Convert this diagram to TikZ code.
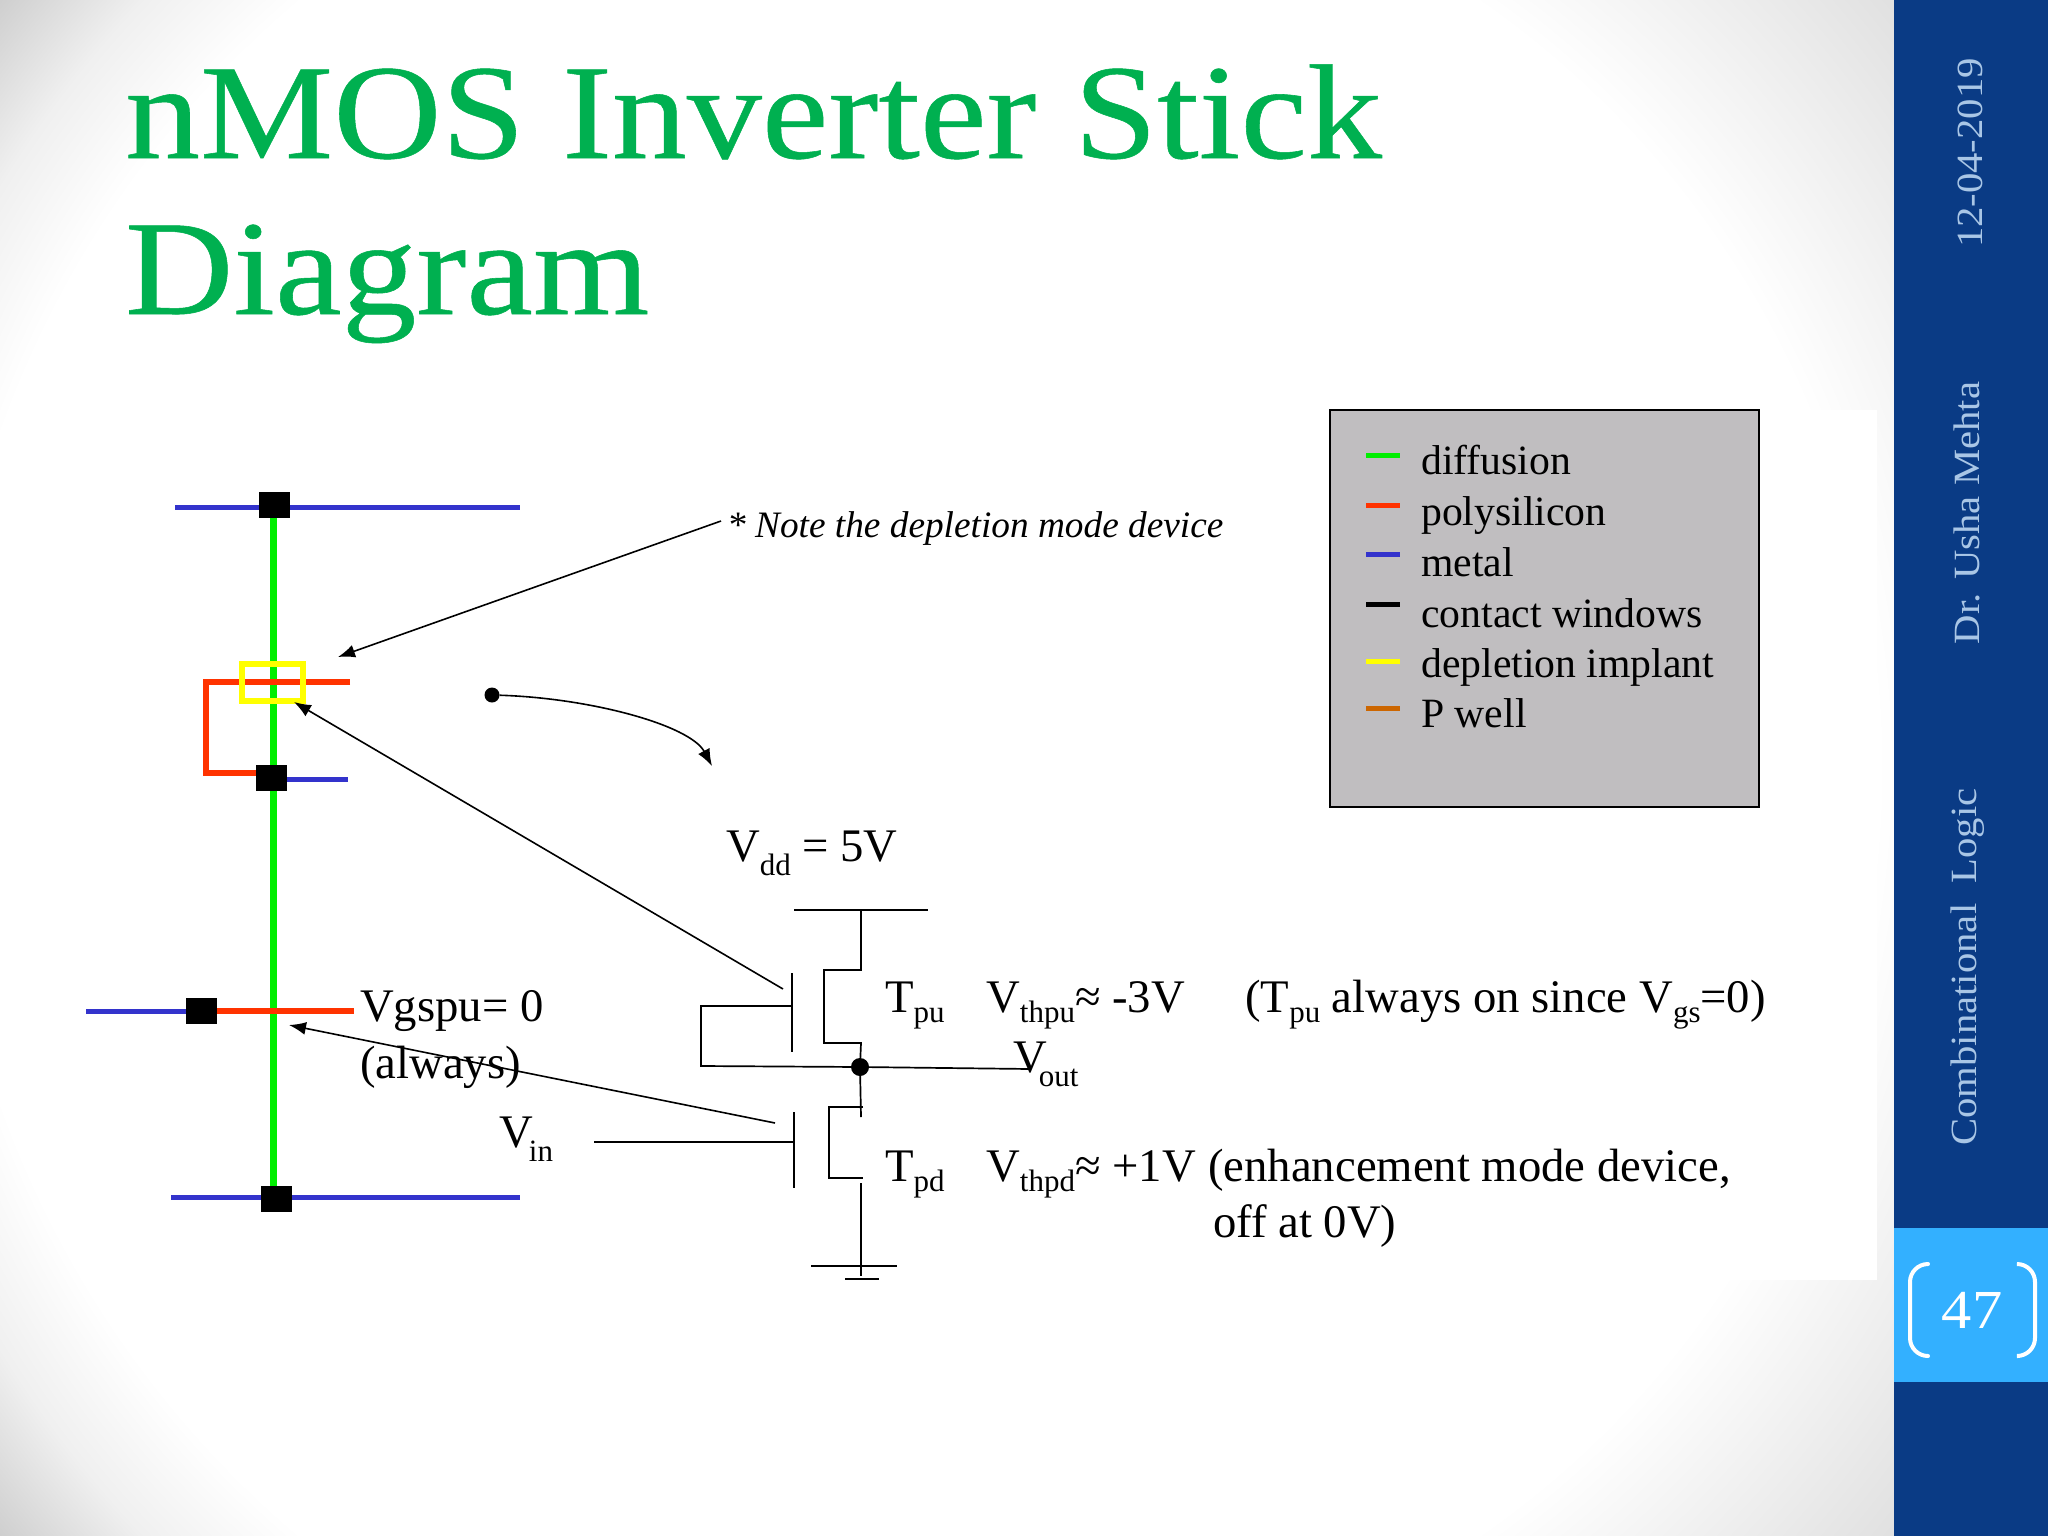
\documentclass[tikz,border=0pt]{standalone}
\usepackage{fontspec}
\setmainfont{Liberation Serif}
\newfontfamily\slidefont[FakeStretch=1.11,FakeBold=0.4]{Liberation Serif}
\newfontfamily\sidefont[FakeStretch=1.1]{Liberation Serif}
\usetikzlibrary{arrows.meta}
\definecolor{titlegreen}{HTML}{00B050}
\definecolor{sidenavy}{HTML}{0A3B85}
\definecolor{sidesky}{HTML}{33B0FF}
\definecolor{sidetext}{HTML}{A9C6E6}
\definecolor{stickgreen}{HTML}{00EE00}
\definecolor{stickred}{HTML}{FF3300}
\definecolor{stickblue}{HTML}{3333CC}
\definecolor{stickyellow}{HTML}{FFFF00}
\definecolor{stickorange}{HTML}{CC6600}
\definecolor{legendgray}{HTML}{C0BEC0}
\pgfdeclareradialshading{backleft}{\pgfpoint{0bp}{0bp}}{
  color(0bp)=(white); color(20.2bp)=(white); color(22.4bp)=(black!6); color(24.6bp)=(black!19); color(50bp)=(black!19)}
\pgfdeclareradialshading{backright}{\pgfpoint{0bp}{0bp}}{
  color(0bp)=(white); color(18.75bp)=(white); color(24.6bp)=(black!12); color(50bp)=(black!12)}
\newcommand{\lowsub}[1]{\raisebox{-10pt}{\fontsize{31}{32}\selectfont #1}}
\newcommand{\fsz}[1]{\fontsize{#1}{#1}\selectfont}

\begin{document}
\begin{tikzpicture}[x=1pt,y=-1pt]

\tikzset{
  txt_s/.style = {inner sep=0pt, anchor=base west, font=\fsz{46.7}},
  leg_s/.style = {inner sep=0pt, anchor=base west, font=\fsz{41.7}},
  side_s/.style = {inner sep=0pt, rotate=90, text=sidetext, font=\sidefont\fsz{37}},
  head_s/.style = {inner sep=0pt, anchor=base west, text=titlegreen, font=\slidefont\fsz{135}},
  cnt_s/.style = {fill=black, inner sep=0pt, minimum width=31pt, minimum height=26pt},
  dot_s/.style = {fill=black, circle, inner sep=0pt, minimum size=15pt},
  metal_s/.style = {draw=stickblue, line width=5pt},
  poly_s/.style = {draw=stickred, line width=6pt},
  diff_s/.style = {draw=stickgreen, line width=7pt},
  wire_s/.style = {draw=black, line width=1.7pt},
  point_s/.style = {draw=black, line width=1.6pt, -{Latex[length=17pt,width=13pt]}},
  dash_s/.style = {line width=5pt}
}

\path[use as bounding box] (0,0) rectangle (2048,1536);
\begin{scope}
\clip (0,0) rectangle (947,1536);
\shade[shading=backleft] (-293,-472) rectangle (2187,2008);
\end{scope}
\begin{scope}
\clip (947,0) rectangle (1894,1536);
\shade[shading=backright] (-293,-472) rectangle (2187,2008);
\end{scope}
\fill[white] (560,410) rectangle (1877,1280);
\fill[sidenavy] (1894,0) rectangle (2048,1536);
\fill[sidesky] (1894,1228) rectangle (2048,1382);

\node [head_s] (title_a) at (125,158) {nMOS Inverter Stick};
\node [head_s] (title_b) at (125,314) {Diagram};

\node [side_s] (date_t) at (1970,153) {12-04-2019};
\node [side_s] (name_t) at (1967,513) {Dr. Usha Mehta};
\node [side_s] (topic_t) at (1968,967) {Combinational~~Logic};
\node [inner sep=0pt, text=white, font=\sidefont\fsz{55}] (page_t) at (1972,1310) {47};
\draw[white, line width=4pt, line cap=round, rounded corners=18pt] (1928,1264) -- (1910,1264) -- (1910,1356) -- (1928,1356);
\draw[white, line width=4pt, line cap=round, rounded corners=18pt] (2018,1264) -- (2035,1264) -- (2035,1356) -- (2018,1356);

\draw[metal_s] (175,507) -- (520,507);
\draw[metal_s] (287,779) -- (348,779);
\draw[metal_s] (86,1011) -- (190,1011);
\draw[metal_s] (171,1197) -- (520,1197);
\draw[diff_s] (273,510) -- (273,1197);
\draw[poly_s] (350,682) -- (206,682) -- (206,773) -- (258,773);
\draw[poly_s] (212,1011) -- (354,1011);
\draw[draw=stickyellow, line width=6.5pt] (242,664) rectangle (303,701);
\node [cnt_s] (cnt_top) at (274,505) {};
\node [cnt_s] (cnt_mid) at (271,778) {};
\node [cnt_s] (cnt_gate) at (201,1011) {};
\node [cnt_s] (cnt_bot) at (276,1199) {};

\node [txt_s] (gate_a) at (360,1021) {Vgspu= 0};
\node [txt_s] (gate_b) at (360,1078) {(always)};
\node [inner sep=0pt, anchor=base west, font=\itshape\fsz{37.3}] (note_t) at (727,537) {* Note the depletion mode device};

\coordinate (note_tail) at (721,521);
\coordinate (note_tip) at (338,657);
\coordinate (pu_tail) at (783,989);
\coordinate (pu_tip) at (294,702);
\coordinate (pd_tail) at (775,1123);
\coordinate (pd_tip) at (289,1025);
\coordinate (move_tip) at (712,766);
\draw[point_s] (note_tail) -- (note_tip);
\draw[point_s] (pu_tail) -- (pu_tip);
\draw[point_s] (pd_tail) -- (pd_tip);
\node [dot_s] (move_dot) at (492,695) {};
\draw[point_s] (move_dot) .. controls (590,698) and (690,725) .. (move_tip);

\node [draw=black, line width=1.7pt, fill=legendgray, inner sep=0pt, minimum width=429pt, minimum height=397pt] (legend_box) at (1544.5,608.5) {};
\foreach \yy/\yt/\colr/\lab in {455/474/stickgreen/diffusion, 505/525/stickred/polysilicon, 554/576/stickblue/metal, 604/627/black/contact windows, 661/677/stickyellow/depletion implant, 708/727/stickorange/P well} {
  \draw[dash_s, draw=\colr] (1366,\yy) -- (1400,\yy);
  \node [leg_s] at (1421,\yt) {\lab};
}

\node [txt_s] (vdd_t) at (726,861) {V\raisebox{-4pt}{\lowsub{dd}} = 5V};
\node [txt_s] (vin_t) at (499,1147) {V\hspace{-4pt}\raisebox{-4pt}{\lowsub{in}}};
\node [txt_s] (vout_t) at (1013,1072) {V\hspace{-8pt}\raisebox{-4pt}{\lowsub{out}}};
\node [txt_s] (tpu_t) at (885,1012) {T\lowsub{pu}};
\node [txt_s] (tpd_t) at (885,1181) {T\lowsub{pd}};
\node [txt_s] (vthpu_t) at (986,1012) {V\lowsub{thpu}≈ -3V};
\node [txt_s] (vthpd_t) at (986,1181) {V\lowsub{thpd}≈ +1V};
\node [txt_s] (pu_note) at (1245,1012) {(T\lowsub{pu} always on since V\lowsub{gs}=0)};
\node [txt_s] (pd_note) at (1208,1181) {(enhancement mode device,};
\node [txt_s] (pd_more) at (1213,1237) {off at 0V)};

\coordinate (rail_l) at (794,910);
\coordinate (rail_r) at (928,910);
\coordinate (rail_m) at (861,910);
\coordinate (pu_d) at (861,970);
\coordinate (pu_dc) at (824,970);
\coordinate (pu_sc) at (824,1043);
\coordinate (pu_s) at (861,1043);
\coordinate (pd_stub) at (861,1117);
\coordinate (pd_e) at (863,1107);
\coordinate (pd_dc) at (829,1107);
\coordinate (pd_sc) at (829,1178);
\coordinate (pd_s) at (863,1178);
\coordinate (gnd_t) at (861,1183);
\coordinate (gnd_m) at (861,1276);
\coordinate (gnd_l) at (811,1266);
\coordinate (gnd_r) at (897,1266);
\coordinate (gnd_a) at (845,1279);
\coordinate (gnd_b) at (879,1279);
\coordinate (pu_ga) at (792,973);
\coordinate (pu_gb) at (792,1052);
\coordinate (pu_gm) at (792,1006);
\coordinate (fb_a) at (701,1006);
\coordinate (fb_b) at (701,1066);
\coordinate (pd_ga) at (794,1112);
\coordinate (pd_gb) at (794,1188);
\coordinate (pd_gm) at (794,1142);
\coordinate (in_l) at (594,1142);
\coordinate (out_r) at (1030,1069);
\node [dot_s, minimum size=18pt] (out_dot) at (860,1067) {};

\draw[wire_s] (rail_l) -- (rail_r);
\draw[wire_s] (rail_m) -- (pu_d) -- (pu_dc) -- (pu_sc) -- (pu_s) -- (out_dot);
\draw[wire_s] (out_dot) -- (pd_stub);
\draw[wire_s] (pd_e) -- (pd_dc) -- (pd_sc) -- (pd_s);
\draw[wire_s] (gnd_t) -- (gnd_m);
\draw[wire_s] (gnd_l) -- (gnd_r);
\draw[wire_s] (gnd_a) -- (gnd_b);
\draw[wire_s] (pu_ga) -- (pu_gb);
\draw[wire_s] (pu_gm) -- (fb_a) -- (fb_b) -- (out_dot);
\draw[wire_s] (pd_ga) -- (pd_gb);
\draw[wire_s] (in_l) -- (pd_gm);
\draw[wire_s] (out_dot) -- (out_r);

\end{tikzpicture}
\end{document}
